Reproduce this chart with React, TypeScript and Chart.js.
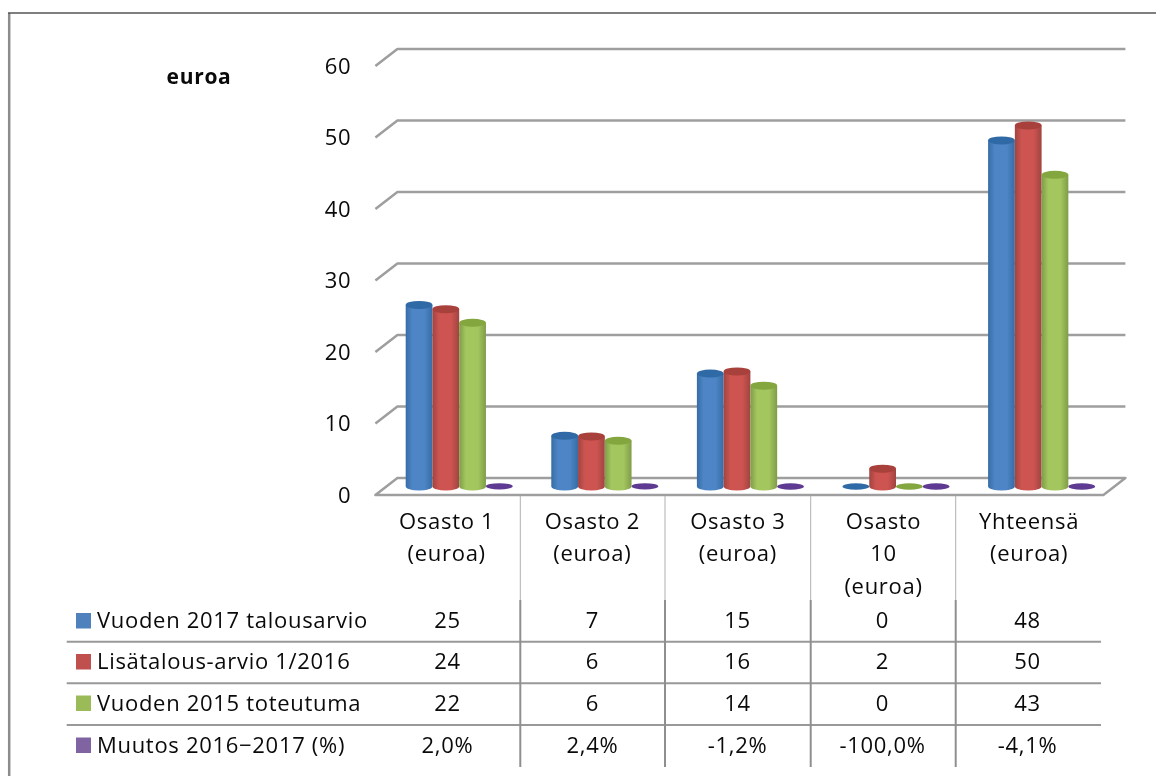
import React, { useEffect, useRef } from "react";
import { Chart, registerables } from "chart.js";

Chart.register(...registerables);

const categories = [
  ["Osasto 1", "(euroa)"],
  ["Osasto 2", "(euroa)"],
  ["Osasto 3", "(euroa)"],
  ["Osasto", "10", "(euroa)"],
  ["Yhteensä", "(euroa)"],
];
const seriesNames = ["Vuoden 2017 talousarvio", "Lisätalous-arvio 1/2016", "Vuoden 2015 toteutuma", "Muutos 2016−2017 (%)"];
const budget2017 = [25.4, 7.1, 15.8, 0, 48.4];
const supplementary2016 = [24.8, 7.0, 16.1, 2.5, 50.5];
const actual2015 = [22.9, 6.4, 14.1, 0, 43.6];
const changePct = [0.02, 0.024, -0.012, -1, -0.041];

const tableBudget = ["25", "7", "15", "0", "48"];
const tableSupplementary = ["24", "6", "16", "2", "50"];
const tableActual = ["22", "6", "14", "0", "43"];
const tableChange = ["2,0%", "2,4%", "-1,2%", "-100,0%", "-4,1%"];
const tableRows = [tableBudget, tableSupplementary, tableActual, tableChange];

const colors = ["#4F81BD", "#C0504D", "#9BBB59", "#8064A2"];
const shades = [
  { edge: "#376ca5", mid: "#4d85c6", cap: "#2f6aa6" },
  { edge: "#a04441", mid: "#cd5450", cap: "#a8403c" },
  { edge: "#7f9d48", mid: "#a4c65e", cap: "#84a63f" },
  { edge: "#5f4585", mid: "#7a4fa8", cap: "#5f3a92" },
];

const FONT = '"Open Sans", sans-serif';
const GRID = "#9e9e9e";
const DX = 11;
const DY = 8.5;
const RY = 4;

const scene = {
  id: "scene",
  beforeDraw(chart: any) {
    chart.ctx.letterSpacing = "0.7px";
  },
  beforeDatasetsDraw(chart: any) {
    const { ctx, chartArea: a, scales } = chart;
    const y = scales.y;
    ctx.save();
    ctx.strokeStyle = GRID;
    ctx.lineWidth = 2.5;
    ctx.lineJoin = "round";
    y.ticks.forEach((t: any) => {
      const py = y.getPixelForValue(t.value);
      ctx.beginPath();
      ctx.moveTo(a.left - DX, py + DY);
      ctx.lineTo(a.left + DX, py - DY);
      ctx.lineTo(a.right + DX, py - DY);
      if (t.value === 0) {
        ctx.lineTo(a.right - DX, py + DY);
        ctx.closePath();
      }
      ctx.stroke();
    });
    ctx.restore();
  },
  beforeDatasetDraw() {
    return false;
  },
  afterDatasetsDraw(chart: any) {
    const { ctx } = chart;
    const count = chart.data.labels.length;
    for (let c = 0; c < count; c++) {
      chart.data.datasets.forEach((_: any, d: number) => {
        const bar = chart.getDatasetMeta(d).data[c];
        const s = shades[d];
        const half = bar.width / 2;
        const base = bar.base;
        const top = Math.min(bar.y, base);
        ctx.save();
        if (base - top > 1) {
          const g = ctx.createLinearGradient(bar.x - half, 0, bar.x + half, 0);
          g.addColorStop(0, s.edge);
          g.addColorStop(0.25, s.mid);
          g.addColorStop(0.7, s.mid);
          g.addColorStop(1, s.edge);
          ctx.fillStyle = g;
          ctx.beginPath();
          ctx.moveTo(bar.x - half, top);
          ctx.lineTo(bar.x - half, base);
          ctx.ellipse(bar.x, base, half, RY, 0, Math.PI, 0, true);
          ctx.lineTo(bar.x + half, top);
          ctx.closePath();
          ctx.fill();
        }
        ctx.fillStyle = s.cap;
        ctx.beginPath();
        ctx.ellipse(bar.x, top, half, RY - (base - top > 1 ? 0 : 0.8), 0, 0, Math.PI * 2);
        ctx.fill();
        ctx.restore();
      });
    }
  },
  afterDraw(chart: any) {
    const { ctx } = chart;
    ctx.save();
    // frame
    ctx.strokeStyle = "#8c8c8c";
    ctx.lineWidth = 2.5;
    ctx.beginPath();
    ctx.moveTo(9.2, 776);
    ctx.lineTo(9.2, 13);
    ctx.stroke();
    ctx.strokeStyle = "#555";
    ctx.lineWidth = 1.5;
    ctx.beginPath();
    ctx.moveTo(8, 13);
    ctx.lineTo(1156, 13);
    ctx.stroke();
    // table rules
    ctx.strokeStyle = "#999";
    ctx.lineWidth = 2;
    [641.7, 683.3, 725].forEach((ly) => {
      ctx.beginPath();
      ctx.moveTo(66.7, ly);
      ctx.lineTo(1101, ly);
      ctx.stroke();
    });
    [520.3, 665, 810.7, 955.7].forEach((lx) => {
      ctx.strokeStyle = "#b0b0b0";
      ctx.lineWidth = 1;
      ctx.beginPath();
      ctx.moveTo(lx, 496);
      ctx.lineTo(lx, 600);
      ctx.stroke();
      ctx.strokeStyle = "#8f8f8f";
      ctx.lineWidth = 2;
      ctx.beginPath();
      ctx.moveTo(lx, 600);
      ctx.lineTo(lx, 767);
      ctx.stroke();
    });
    // table text
    const rowY = [622, 663, 704.5, 746.5];
    const colX = [447.5, 592.5, 737.5, 882.5, 1027.5];
    ctx.textBaseline = "middle";
    ctx.font = `22px ${FONT}`;
    seriesNames.forEach((name, i) => {
      ctx.fillStyle = colors[i];
      ctx.fillRect(76, rowY[i] - 9, 15, 15.5);
      ctx.fillStyle = "#0a0a0a";
      ctx.textAlign = "left";
      ctx.fillText(name, 97, rowY[i]);
      ctx.textAlign = "center";
      tableRows[i].forEach((v, c) => ctx.fillText(v, colX[c], rowY[i]));
    });
    ctx.font = `bold 21px ${FONT}`;
    ctx.textAlign = "center";
    ctx.fillText("euroa", 199, 78);
    ctx.restore();
  },
};

export default function App() {
  const ref = useRef<HTMLCanvasElement>(null);
  useEffect(() => {
    const chart = new Chart(ref.current!, {
      type: "bar",
      data: {
        labels: categories as any,
        datasets: [budget2017, supplementary2016, actual2015, changePct].map((data, i) => ({
          label: seriesNames[i],
          data,
          backgroundColor: colors[i],
          categoryPercentage: 0.735,
          barPercentage: 1,
        })),
      },
      options: {
        responsive: false,
        animation: false,
        layout: { autoPadding: false, padding: { top: 57.5, right: 41.6, left: 0, bottom: 0 } },
        plugins: { legend: { display: false }, tooltip: { enabled: false } },
        scales: {
          x: {
            grid: { display: false, drawTicks: false },
            border: { display: false },
            afterFit: (s: any) => { s.height = 289.5; },
            ticks: {
              autoSkip: false,
              maxRotation: 0,
              minRotation: 0,
              padding: 20,
              labelOffset: -12.5,
              color: "#0a0a0a",
              font: { family: FONT, size: 22, lineHeight: 1.47 },
            },
          },
          y: {
            min: 0,
            max: 60,
            grid: { display: false, drawTicks: false },
            border: { display: false },
            afterFit: (s: any) => { s.width = 386.4; },
            ticks: {
              stepSize: 10,
              padding: 35,
              labelOffset: 10,
              color: "#0a0a0a",
              font: { family: FONT, size: 22 },
            },
          },
        },
      },
      plugins: [scene],
    } as any);
    return () => chart.destroy();
  }, []);
  return (
    <div style={{ position: "absolute", left: 0, top: 0, background: "#fff" }}>
      <canvas ref={ref} width={1156} height={776} style={{ display: "block" }} />
    </div>
  );
}
